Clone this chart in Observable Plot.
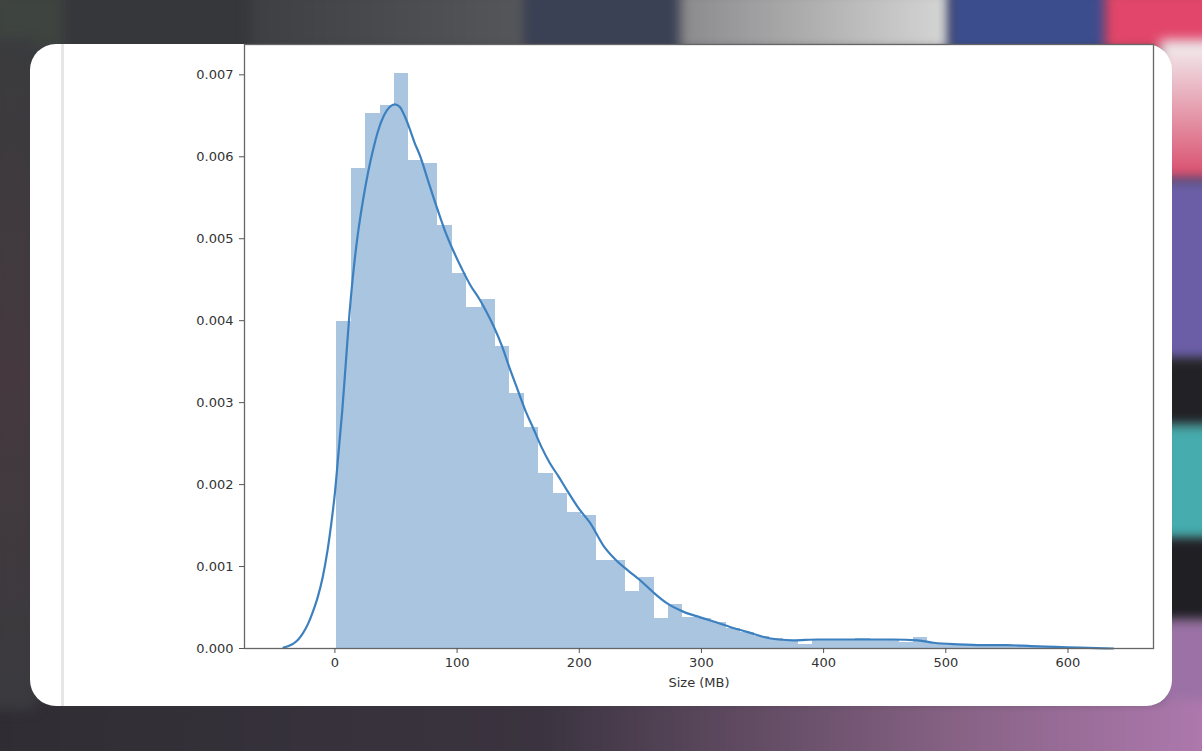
<!DOCTYPE html>
<html>
<head>
<meta charset="utf-8">
<script src="https://cdn.jsdelivr.net/npm/d3@7"></script>
<script src="https://cdn.jsdelivr.net/npm/@observablehq/plot@0.6"></script>
<style>
  html, body { margin: 0; padding: 0; }
  body { width: 1202px; height: 751px; overflow: hidden; position: relative; background: #3a3a3f; font-family: "DejaVu Sans", sans-serif; }
  .bg { position: absolute; filter: blur(6px); }
  #card { position: absolute; left: 30px; top: 44px; width: 1142px; height: 662px; background: #fff; border-radius: 26px; overflow: hidden; }
  #vline { position: absolute; left: 31px; top: 0; width: 3px; height: 662px; background: #e6e6e6; }
  #chart { position: absolute; left: 150px; top: 40px; }
</style>
</head>
<body>
<!-- blurred background scenery -->
<div class="bg" style="left:-10px;top:-10px;width:80px;height:60px;background:#3e4440"></div>
<div class="bg" style="left:65px;top:-10px;width:190px;height:60px;background:#35373a"></div>
<div class="bg" style="left:250px;top:-10px;width:280px;height:60px;background:linear-gradient(90deg,#3d3f43,#55575b)"></div>
<div class="bg" style="left:525px;top:-10px;width:160px;height:60px;background:#3b4155"></div>
<div class="bg" style="left:680px;top:-10px;width:270px;height:60px;background:linear-gradient(90deg,#8a8a8c,#d6d6d6)"></div>
<div class="bg" style="left:950px;top:-10px;width:160px;height:60px;background:#3c4d8e"></div>
<div class="bg" style="left:1105px;top:-10px;width:110px;height:60px;background:#e2466a"></div>
<div class="bg" style="left:1160px;top:40px;width:60px;height:140px;background:linear-gradient(180deg,#f3f0f2,#d84a6a)"></div>
<div class="bg" style="left:1160px;top:180px;width:60px;height:180px;background:#6b5ea6"></div>
<div class="bg" style="left:1160px;top:360px;width:60px;height:65px;background:#222226"></div>
<div class="bg" style="left:1160px;top:425px;width:60px;height:115px;background:#46acad"></div>
<div class="bg" style="left:1160px;top:540px;width:60px;height:80px;background:#1f1f24"></div>
<div class="bg" style="left:1160px;top:620px;width:60px;height:140px;background:#9c72a6"></div>
<div class="bg" style="left:-10px;top:700px;width:1230px;height:70px;background:linear-gradient(90deg,#2f2d33 0%,#3b3440 45%,#8a6488 80%,#b07ab0 100%)"></div>
<div class="bg" style="left:-10px;top:40px;width:45px;height:670px;background:linear-gradient(180deg,#3a3b3e,#45393f 50%,#3a3a3e)"></div>

<div id="card"><div id="vline"></div></div>
<div id="chart"></div>

<script>
// Histogram bin edges (MB) and density per bin
const binEdges = [1.6, 13.4, 25.2, 37.0, 48.8, 60.6, 72.4, 84.2, 96.0, 107.8, 119.6, 131.4, 143.2, 155.0, 166.8, 178.6, 190.4, 202.2, 214.0, 225.8, 237.6, 249.4, 261.2, 273.0, 284.8, 296.6, 308.4, 320.2, 332.0, 343.8, 355.6, 367.4, 379.2, 391.0, 402.8, 414.6, 426.4, 438.2, 450.0, 461.8, 473.6, 485.4, 497.2, 509.0, 520.8, 532.6, 544.4, 556.2, 568.0, 579.8, 591.6];
const binDensity = [0.00399, 0.00586, 0.00653, 0.00662, 0.00702, 0.00596, 0.00592, 0.00516, 0.00458, 0.00416,
  0.00426, 0.00368, 0.00311, 0.00270, 0.00214, 0.00189, 0.00166, 0.00162, 0.00107, 0.00107,
  0.00069, 0.00087, 0.00037, 0.00054, 0.00038, 0.00037, 0.00032, 0.00024, 0.00020, 0.00015,
  0.00012, 0.00008, 0.00005, 0.00011, 0.00011, 0.00010, 0.00012, 0.00011, 0.00011, 0.00007,
  0.00014, 0.00006, 0.00005, 0.00005, 0.00004, 0.00004, 0.00003, 0.00003, 0.00003, 0.00002];

// KDE curve
const kdeSize = [-42, -38, -34, -30, -26, -22, -18, -14, -10, -6, -3, 0, 3, 6, 9, 12, 15, 19, 23, 27, 31, 35, 40, 45, 49, 53, 57, 61, 65, 70, 76, 83, 90, 97, 104, 111, 118, 124, 130, 137, 143, 149, 156, 162, 169, 176, 183, 190, 200, 209, 220, 230, 240, 250, 261, 272, 285, 299, 312, 324, 338, 351, 363, 375, 395, 415, 436, 457, 477, 490, 510, 530, 550, 570, 590, 610, 637];
const kdeDensity = [0.00001, 0.00003, 0.00006, 0.00011, 0.00019, 0.0003, 0.00045, 0.00063, 0.00087, 0.0012, 0.00152, 0.0019, 0.0024, 0.0029, 0.0035, 0.0041, 0.00458, 0.00508, 0.00547, 0.0058, 0.00607, 0.0063, 0.0065, 0.00661, 0.00664, 0.00661, 0.0065, 0.00635, 0.00618, 0.006, 0.00572, 0.0054, 0.0051, 0.00485, 0.00463, 0.00443, 0.00427, 0.00411, 0.00393, 0.00368, 0.00342, 0.00318, 0.0029, 0.0027, 0.00246, 0.00226, 0.0021, 0.00193, 0.0017, 0.00153, 0.00125, 0.00108, 0.00095, 0.00083, 0.00068, 0.00055, 0.00045, 0.00038, 0.00032, 0.00026, 0.0002, 0.00014, 0.00011, 0.0001, 0.00011, 0.00011, 0.00011, 0.00011, 0.0001, 0.00007, 0.00005, 0.00004, 0.00004, 0.00003, 0.00002, 0.00001, 0];

const xTicks = [0, 100, 200, 300, 400, 500, 600];
const yTicks = [0, 0.001, 0.002, 0.003, 0.004, 0.005, 0.006, 0.007];
const xLabel = "Size (MB)";

const bins = binDensity.map((d, i) => ({x1: binEdges[i], x2: binEdges[i + 1], y: d}));
const kde = kdeSize.map((s, i) => ({x: s, y: kdeDensity[i]}));

const chart = Plot.plot({
  width: 1010,
  height: 660,
  marginLeft: 94,
  marginRight: 7,
  marginTop: 4,
  marginBottom: 52,
  style: {fontFamily: "DejaVu Sans, sans-serif", fontSize: "13px", color: "#333", background: "transparent"},
  x: {domain: [-74, 670]},
  y: {domain: [0, 0.00737]},
  marks: [
    Plot.rectY(bins, {x1: "x1", x2: "x2", y: "y", fill: "#a9c5e0", inset: 0, shapeRendering: "crispEdges"}),
    Plot.line(kde, {x: "x", y: "y", stroke: "#3d80bf", strokeWidth: 2.2, curve: "monotone-x"}),
    Plot.frame({stroke: "#666", strokeWidth: 1.3}),
    Plot.axisY(yTicks, {tickFormat: d3.format(".3f"), tickSize: 5, tickPadding: 6, label: null, stroke: "#555"}),
    Plot.axisX(xTicks, {tickFormat: d3.format("d"), tickSize: 5, tickPadding: 4, label: xLabel, labelAnchor: "center", labelOffset: 38, labelArrow: "none", stroke: "#555"})
  ]
});
document.getElementById("chart").appendChild(chart);
</script>
</body>
</html>
